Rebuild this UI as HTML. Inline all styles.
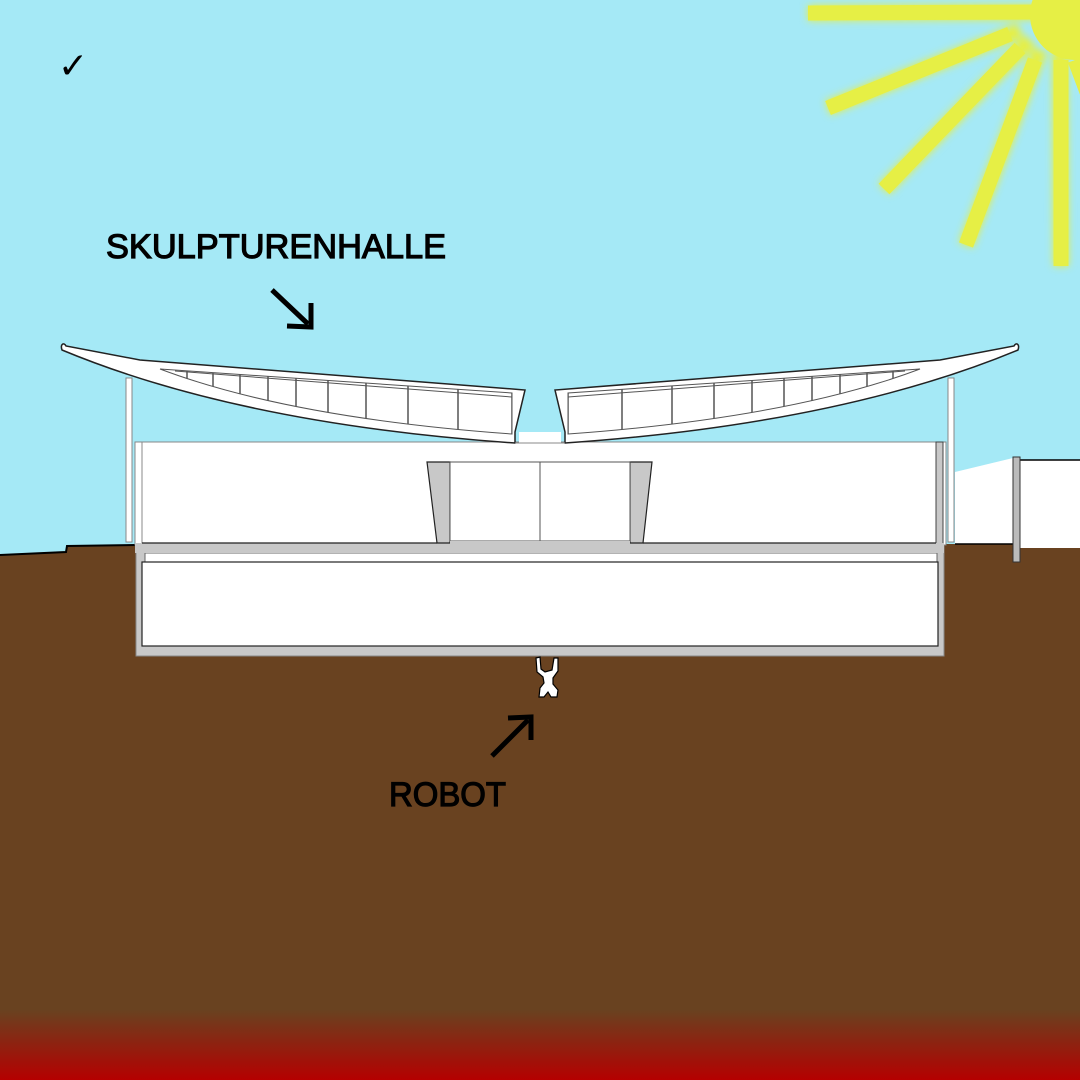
<!DOCTYPE html>
<html><head><meta charset="utf-8"><style>html,body{margin:0;padding:0;width:1080px;height:1080px;overflow:hidden}svg{display:block}</style></head>
<body>
<svg width="1080" height="1080" viewBox="0 0 1080 1080" xmlns="http://www.w3.org/2000/svg">
<defs>
<linearGradient id="g" x1="0" y1="0" x2="0" y2="1">
<stop offset="0" stop-color="#694220"/><stop offset="1" stop-color="#b50000"/>
</linearGradient>
<filter id="bl"><feGaussianBlur stdDeviation="4"/></filter>
<clipPath id="wc"><path d="M160,369 L512,393 L512,434 Q290,418 160,369 Z"/></clipPath>
</defs>
<rect width="1080" height="1080" fill="#a5e9f6"/>
<!-- sun -->
<g stroke="#e6ef45" stroke-width="15" filter="url(#bl)">
<line x1="1060" y1="12" x2="808" y2="13"/>
<line x1="1020" y1="30" x2="828" y2="108"/>
<line x1="1030" y1="40" x2="884" y2="189"/>
<line x1="1040" y1="50" x2="966" y2="245"/>
<line x1="1060" y1="50" x2="1061" y2="266"/>
</g>
<g stroke="#e6ef45" stroke-width="15">
<line x1="1040" y1="12" x2="808" y2="13"/>
<line x1="1010" y1="34" x2="828" y2="108"/>
<line x1="1020" y1="48" x2="884" y2="189"/>
<line x1="1035" y1="60" x2="966" y2="245"/>
<line x1="1061" y1="60" x2="1061" y2="266"/>
<line x1="1075" y1="60" x2="1090" y2="100"/>
</g>
<circle cx="1075" cy="15" r="45" fill="#e6ef45"/>
<!-- check -->
<text x="58" y="78" font-family="DejaVu Sans, sans-serif" font-size="36" fill="#000">✓</text>
<!-- ground -->
<path d="M0,555 L66,552 L67,546 L136,545 L944,545 L944,544 L1020,544 L1020,548 L1080,548 L1080,1080 L0,1080 Z" fill="#694220"/>
<rect x="0" y="1010" width="1080" height="70" fill="url(#g)"/>
<path d="M0,555 L66,552 L67,546 L136,545" fill="none" stroke="#000" stroke-width="2"/>
<!-- right neighbour -->
<polygon points="955,472 1013,458 1013,544 955,544" fill="#fff"/>
<rect x="1020" y="460" width="60" height="88" fill="#fff"/>
<line x1="1020" y1="460" x2="1080" y2="460" stroke="#000" stroke-width="1.5"/>
<line x1="955" y1="544" x2="1020" y2="544" stroke="#000" stroke-width="1.5"/>
<rect x="1013" y="457" width="7" height="105" fill="#bbb" stroke="#333" stroke-width="1"/>
<!-- building shell -->
<rect x="136" y="545" width="808" height="111" fill="#c8c8c8" stroke="#888" stroke-width="1"/>
<rect x="145" y="553" width="792" height="9" fill="#fff" stroke="#666" stroke-width="1"/>
<rect x="142" y="562" width="796" height="84" fill="#fff" stroke="#222" stroke-width="1.2"/>
<!-- upper hall -->
<rect x="135" y="442" width="811" height="103" fill="#fff" stroke="#888" stroke-width="1"/>
<line x1="142" y1="442" x2="142" y2="545" stroke="#888"/>
<rect x="936" y="442" width="7" height="103" fill="#c8c8c8" stroke="#444" stroke-width="1"/>
<rect x="126" y="378" width="6" height="164" fill="#fff" stroke="#888"/>
<rect x="948" y="378" width="6" height="164" fill="#fff" stroke="#888"/>
<rect x="135" y="543" width="809" height="10" fill="#c8c8c8"/>
<line x1="142" y1="543" x2="437" y2="543" stroke="#222" stroke-width="1.2"/>
<line x1="643" y1="543" x2="936" y2="543" stroke="#222" stroke-width="1.2"/>
<!-- central -->
<polygon points="427,462 450,462 450,543 437,543" fill="#c8c8c8" stroke="#222" stroke-width="1.2"/>
<polygon points="630,462 652,462 643,543 630,543" fill="#c8c8c8" stroke="#222" stroke-width="1.2"/>
<rect x="450" y="462" width="180" height="79" fill="#fff" stroke="#555" stroke-width="1"/>
<line x1="540" y1="462" x2="540" y2="541" stroke="#555"/>
<rect x="450" y="541" width="180" height="4" fill="#c8c8c8"/>
<!-- roof -->
<g id="wing">
<path d="M62,350 C60,344 64,342 66,346 L140,360 L525,390 L515,432 L515,443 Q240,424 62,350 Z" fill="#fff" stroke="#222" stroke-width="1.5"/>
<path d="M160,369 L512,393 L512,434 Q290,418 160,369 Z" fill="#fff" stroke="#555" stroke-width="1"/>
<path d="M175,371 L512,397" stroke="#555" stroke-width="1" fill="none"/>
<g stroke="#555" stroke-width="1.5" clip-path="url(#wc)">
<line x1="187" y1="360" x2="187" y2="440"/>
<line x1="213" y1="360" x2="213" y2="440"/>
<line x1="240" y1="360" x2="240" y2="440"/>
<line x1="268" y1="360" x2="268" y2="440"/>
<line x1="296" y1="360" x2="296" y2="440"/>
<line x1="328" y1="360" x2="328" y2="440"/>
<line x1="366" y1="360" x2="366" y2="440"/>
<line x1="408" y1="360" x2="408" y2="440"/>
<line x1="458" y1="360" x2="458" y2="440"/>
<line x1="512" y1="360" x2="512" y2="440"/>
</g>
</g>
<use href="#wing" transform="translate(1080,0) scale(-1,1)"/>
<rect x="519" y="432" width="42" height="11" fill="#fff"/>
<line x1="515" y1="443" x2="565" y2="443" stroke="#888"/>
<!-- robot -->
<path d="M536,658 L540,657 L541,669 L545,672 L552,670 L554,658 L558,658 L558,671 L553,678 L553,684 L558,690 L557,697 L551,697 L548,692 L544,697 L539,697 L540,688 L544,683 L543,677 L537,672 Z" fill="#fff" stroke="#000" stroke-width="1.2"/>
<!-- labels -->
<text x="106" y="258" font-family="Liberation Sans, sans-serif" font-size="34" fill="#000" stroke="#000" stroke-width="1.2" textLength="340" lengthAdjust="spacingAndGlyphs">SKULPTURENHALLE</text>
<g stroke="#000" stroke-width="5" fill="none">
<line x1="272" y1="290" x2="308" y2="324"/>
<polyline points="287,326 311,327 311,303"/>
</g>
<text x="389" y="806" font-family="Liberation Sans, sans-serif" font-size="34" fill="#000" stroke="#000" stroke-width="1.2" textLength="117" lengthAdjust="spacingAndGlyphs">ROBOT</text>
<g stroke="#000" stroke-width="5" fill="none">
<line x1="492" y1="756" x2="528" y2="720"/>
<polyline points="508,718 531,717 531,740"/>
</g>
</svg>
</body></html>
